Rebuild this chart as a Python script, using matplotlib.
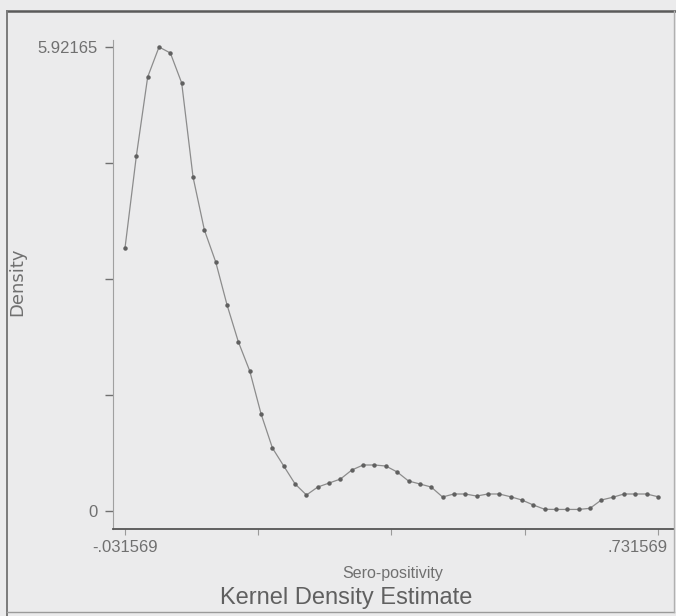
#!/usr/bin/env python3
# -*- coding:utf-8 -*-

import numpy as np
import matplotlib
matplotlib.use("Agg")
import matplotlib.pyplot as plt
import matplotlib.transforms as mtransforms
from matplotlib.lines import Line2D

# kernel density estimate evaluated on an even grid between min and max
x_min = -0.031569
x_max = 0.731569
density = [3.356, 4.530, 5.539, 5.92165, 5.845, 5.462, 4.262, 3.586, 3.178, 2.629,
           2.157, 1.787, 1.238, 0.804, 0.574, 0.345, 0.204, 0.306, 0.357, 0.408,
           0.523, 0.587, 0.587, 0.574, 0.498, 0.383, 0.345, 0.306, 0.179, 0.217,
           0.217, 0.191, 0.217, 0.217, 0.182, 0.140, 0.077, 0.022, 0.020, 0.020,
           0.020, 0.034, 0.140, 0.175, 0.217, 0.217, 0.217, 0.182]
x_grid = np.linspace(x_min, x_max, len(density))

x_ticks = [-0.031569, 0.159216, 0.35, 0.540784, 0.731569]
x_tick_labels = ['-.031569', '', '', '', '.731569']
y_ticks = [0, 1.4804, 2.9608, 4.4412, 5.92165]
y_tick_labels = ['0', '', '', '', '5.92165']

bg = '#ebebec'
gray = '#707070'
plt.rcParams['font.family'] = ['Liberation Sans', 'DejaVu Sans']

fig = plt.figure(figsize=(6.76, 6.16), dpi=100, facecolor=bg)
ax = fig.add_axes([113 / 676, 87 / 616, 561 / 676, 489 / 616])
ax.set_facecolor(bg)

ax.plot(x_grid, density, color='#8c8c8c', linewidth=0.9,
        marker='o', markersize=2.2, markerfacecolor='#606060', markeredgecolor='#606060')

ax.set_xlim(-0.04875, 0.754478)
ax.set_ylim(-0.2297, 6.0110)

ax.spines['top'].set_visible(False)
ax.spines['right'].set_visible(False)
ax.spines['left'].set_color('#a0a0a0')
ax.spines['left'].set_linewidth(0.8)
ax.spines['bottom'].set_color('#555555')
ax.spines['bottom'].set_linewidth(1.3)

ax.set_xticks(x_ticks)
ax.set_xticklabels(x_tick_labels)
ax.set_yticks(y_ticks)
ax.set_yticklabels(y_tick_labels)
ax.tick_params(axis='x', direction='out', length=4.5, width=0.8, color='#9a9a9a',
               labelsize=12, labelcolor=gray, pad=3.5)
ax.tick_params(axis='y', direction='out', length=6, width=1.0, color='#707070',
               labelsize=12, labelcolor=gray, pad=5)

# last x label is pushed left so it stays inside the frame
last = ax.get_xticklabels()[-1]
last.set_horizontalalignment('right')
last.set_transform(last.get_transform() + mtransforms.ScaledTranslation(0.10, 0, fig.dpi_scale_trans))

ax.set_ylabel('Density', fontsize=13, color=gray, family=['DejaVu Sans'])
ax.yaxis.set_label_coords(-0.155, 0.505)
ax.set_xlabel('Sero-positivity', fontsize=11.5, color=gray)
ax.xaxis.set_label_coords(0.499, -0.076)

fig.text(346 / 676, 1 - 598 / 616, 'Kernel Density Estimate', fontsize=17,
         color='#606060', ha='center', va='center')

# outer frame of the graph: dark top and left edges, faint right and bottom
fig.lines.append(Line2D([7 / 676, 676 / 676], [605 / 616, 605 / 616], transform=fig.transFigure,
                        color='#5a5a5a', linewidth=1.8))
fig.lines.append(Line2D([7 / 676, 7 / 676], [0, 605 / 616], transform=fig.transFigure,
                        color='#7a7a7a', linewidth=1.4))
fig.lines.append(Line2D([7 / 676, 674 / 676], [4 / 616, 4 / 616], transform=fig.transFigure,
                        color='#9a9a9a', linewidth=1.0))
fig.lines.append(Line2D([674 / 676, 674 / 676], [4 / 616, 605 / 616], transform=fig.transFigure,
                        color='#b0b0b0', linewidth=1.0))

fig.savefig('out.png', dpi=100, facecolor=bg)
